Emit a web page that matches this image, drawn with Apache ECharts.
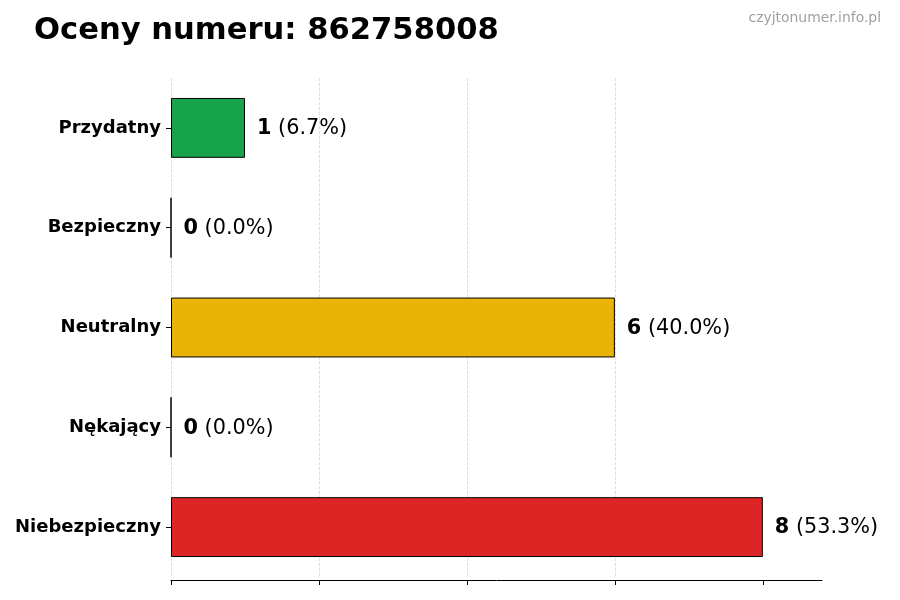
<!DOCTYPE html>
<html>
<head>
<meta charset="utf-8">
<script src="https://cdn.jsdelivr.net/npm/echarts@6/dist/echarts.min.js"></script>
<style>
	html, body { margin: 0; padding: 0; background: #fff; }
	#chart { width: 900px; height: 600px; }
</style>
</head>
<body>
<div id="chart"></div>
<script>
var categories = [ "Przydatny", "Bezpieczny", "Neutralny", "Nękający", "Niebezpieczny" ];
var counts = [ 1, 0, 6, 0, 8 ];
var percents = [ "6.7%", "0.0%", "40.0%", "0.0%", "53.3%" ];
var colors = [ "#16a34a", "#9ca3af", "#eab308", "#f97316", "#dc2626" ];
var tickValues = [ 0, 2, 4, 6, 8 ];

var font = "DejaVu Sans";
var e = echarts.init(document.getElementById("chart"));

var data = counts.map(function(v, i) {
	return {
		value : v,
		itemStyle : { color : colors[i] }
	};
});

var option = {
	backgroundColor : "#fff",
	animation : false,
	textStyle : { fontFamily : font },
	title : [ {
		text : "Oceny numeru: 862758008",
		left : 29,
		top : 11,
		textStyle : { fontFamily : font, fontSize : 30.6, fontWeight : "bold", color : "#000" }
	}, {
		text : "czyjtonumer.info.pl",
		right : 14,
		top : 6,
		textStyle : { fontFamily : font, fontSize : 13.9, fontWeight : "normal", color : "#a0a0a0" }
	} ],
	grid : {
		left : 171,
		right : 78,
		top : 78,
		bottom : 23,
		containLabel : false
	},
	xAxis : {
		type : "value",
		min : 0,
		max : 8.8,
		interval : 2,
		offset : 3,
		axisLine : { show : true, lineStyle : { color : "#000", width : 1 } },
		axisTick : { show : true, length : 5, customValues : tickValues, lineStyle : { color : "#000" } },
		axisLabel : { show : false },
		splitLine : { show : true, showMaxLine : false, lineStyle : { color : "#d4d4d4", type : "dashed", width : 0.8 } }
	},
	yAxis : {
		type : "category",
		inverse : true,
		data : categories,
		axisLine : { show : false },
		axisTick : { show : true, length : 5, alignWithLabel : true, lineStyle : { color : "#000" } },
		axisLabel : { fontFamily : font, fontSize : 18, fontWeight : "bold", color : "#000", margin : 10, padding : [ 2, 0, 0, 0 ] }
	},
	series : [ {
		type : "bar",
		data : data,
		barWidth : "60%",
		itemStyle : { borderColor : "#000", borderWidth : 1 },
		label : {
			show : true,
			position : "right",
			distance : 12,
			offset : [ 0, 1 ],
			formatter : function(p) {
				return "{b|" + counts[p.dataIndex] + "}{n| (" + percents[p.dataIndex] + ")}";
			},
			rich : {
				b : { fontFamily : font, fontSize : 20.8, fontWeight : "bold", color : "#000" },
				n : { fontFamily : font, fontSize : 20.8, color : "#000" }
			}
		}
	} ]
};

e.setOption(option);
window.addEventListener("resize", e.resize);
</script>
</body>
</html>
